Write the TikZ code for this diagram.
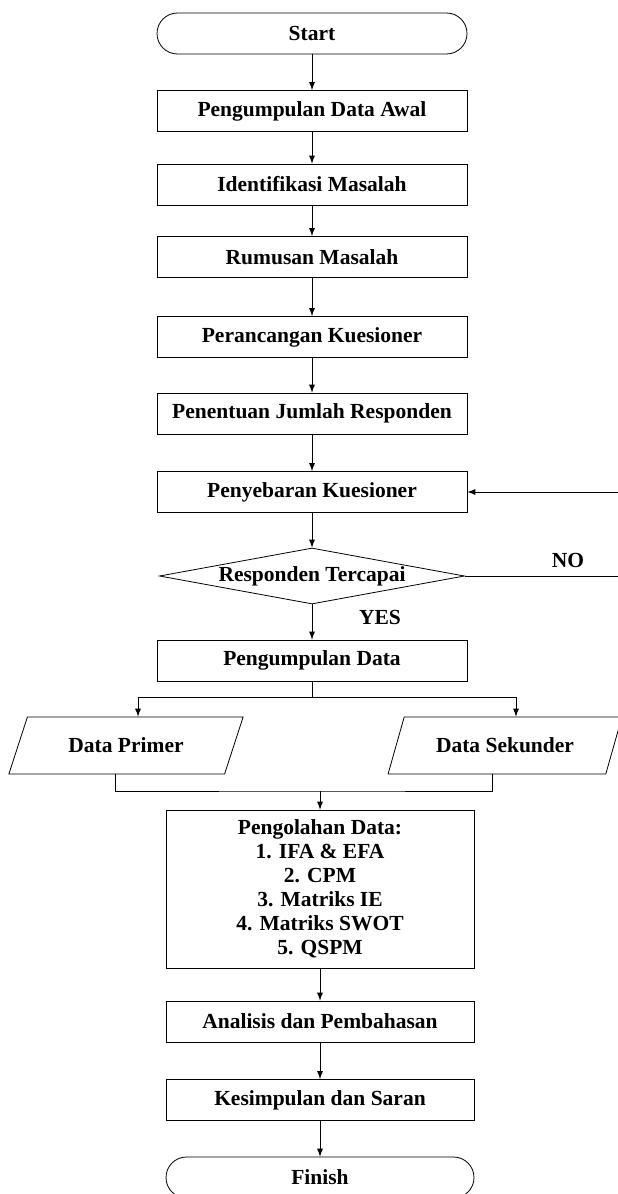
\documentclass[tikz,border=0pt]{standalone}
\usepackage{fontspec}
\setmainfont{Liberation Serif}
\usetikzlibrary{shapes.geometric}

\begin{document}
\begin{tikzpicture}[
        x=0.5pt, y=-0.5pt,
        font=\fontsize{10.75}{12}\selectfont\bfseries,
        term/.style={rectangle, rounded corners=10.25pt, draw, minimum width=155pt, minimum height=20.5pt},
        stepbox/.style={rectangle, draw, minimum width=155pt, minimum height=20.5pt, align=center},
        decision/.style={diamond, draw, aspect=5.4, inner sep=0pt, minimum width=152.5pt, minimum height=28pt},
        datain/.style={trapezium, trapezium left angle=67, trapezium right angle=113, trapezium stretches=true, draw, minimum width=118pt, minimum height=28.5pt},
        lbl/.style={inner sep=1pt},
        arrow/.style={->, >=latex}
    ]
    \useasboundingbox (0,0) rectangle (617,1194);

    % Upper flow
    \node[term] (start) at (312,33.5) {Start};
    \node[stepbox] (awal) at (312,111) {Pengumpulan Data Awal};
    \node[stepbox] (ident) at (312,184.5) {Identifikasi Masalah};
    \node[stepbox] (rumus) at (312,257) {Rumusan Masalah};
    \node[stepbox] (ranc) at (312,337) {Perancangan Kuesioner};
    \node[stepbox] (jumlah) at (312,413.5) {Penentuan Jumlah Responden};
    \node[stepbox] (sebar) at (312,492) {Penyebaran Kuesioner};
    \node[decision] (cek) at (312,576) {Responden Tercapai};
    \node[stepbox] (kumpul) at (312,660.5) {Pengumpulan Data};

    % Data sources
    \node[datain] (primer) at (126,745.5) {Data Primer};
    \node[datain] (sekunder) at (505,745.5) {Data Sekunder};

    % Lower flow
    \node[stepbox, minimum width=154pt, minimum height=79pt] (olah) at (320,889) {Pengolahan Data:\\1. IFA \& EFA\\2. CPM\\3. Matriks IE\\4. Matriks SWOT\\5. QSPM};
    \node[stepbox, minimum width=154pt] (analisis) at (320,1021.5) {Analisis dan Pembahasan};
    \node[stepbox, minimum width=154pt] (simpul) at (320,1100) {Kesimpulan dan Saran};
    \node[term, minimum width=154pt] (finish) at (320,1177.5) {Finish};

    % Labels
    \node[lbl] (yes) at (380,617) {YES};
    \node[lbl] (no) at (568,560) {NO};

    % Helper points
    \coordinate (back) at (618.5,576);
    \coordinate (split) at (312,697);
    \coordinate (join) at (320,791);

    % Connections
    \draw[arrow] (start) -- (awal);
    \draw[arrow] (awal) -- (ident);
    \draw[arrow] (ident) -- (rumus);
    \draw[arrow] (rumus) -- (ranc);
    \draw[arrow] (ranc) -- (jumlah);
    \draw[arrow] (jumlah) -- (sebar);
    \draw[arrow] (sebar) -- (cek);
    \draw[arrow] (cek) -- (kumpul);
    \draw[arrow] (cek.east) -- (back) |- (sebar.east);
    \draw (kumpul) -- (split);
    \draw[arrow] (split) -| ([xshift=6pt]primer.north);
    \draw[arrow] (split) -| ([xshift=5.5pt]sekunder.north);
    \draw ([xshift=-5.5pt]primer.south) |- (join) -| ([xshift=-6.5pt]sekunder.south);
    \draw[arrow] (join) -- (olah);
    \draw[arrow] (olah) -- (analisis);
    \draw[arrow] (analisis) -- (simpul);
    \draw[arrow] (simpul) -- (finish);

\end{tikzpicture}
\end{document}
